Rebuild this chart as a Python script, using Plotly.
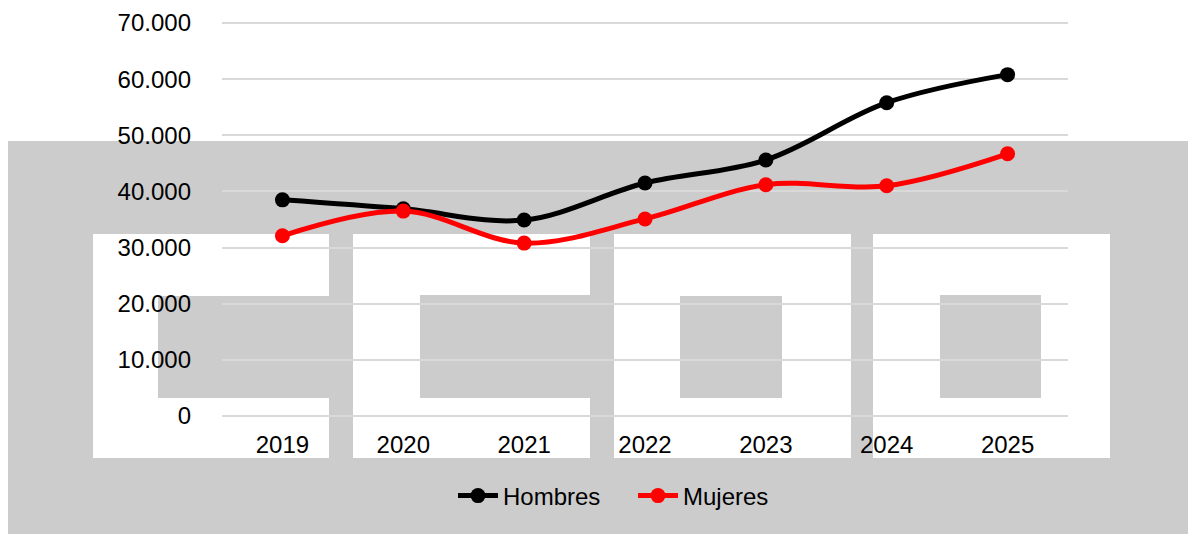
import plotly.graph_objects as go

years = ["2019", "2020", "2021", "2022", "2023", "2024", "2025"]
hombres = [38500, 36900, 34900, 41500, 45600, 55800, 60800]
mujeres = [32100, 36500, 30800, 35100, 41200, 41000, 46700]
y_ticks = [0, 10000, 20000, 30000, 40000, 50000, 60000, 70000]

FONT = "Liberation Sans, Arial, sans-serif"
GREY = "#cccccc"

# page offset (browser body margin) and figure size
OFF = 8
FW, FH = 1196, 534

# plot area in page pixels: 0 at y=416, 70.000 at y=23; padded by 3px each side
PAD = 3
Y0, Y70 = 416, 23
VPP = 70000 / (Y0 - Y70)
L, R, T, B = 222, 1068, Y70 - PAD, Y0 + PAD
W, H = R - L, B - T


def px(x):
    return (x - L) / W


def py(y):
    return (B - y) / H


def rect(x0, y0, x1, y1, color):
    return dict(type="rect", xref="paper", yref="paper", layer="below",
                x0=px(x0), x1=px(x1), y0=py(y1), y1=py(y0),
                fillcolor=color, line=dict(width=0))


shapes = [rect(8, 141, 1210, 560, GREY)]
# watermark letters C C O O
shapes += [
    rect(93, 234, 329, 458, "white"), rect(158, 296, 329, 398, GREY),
    rect(353, 234, 590, 458, "white"), rect(420, 295, 590, 398, GREY),
    rect(614, 234, 851, 458, "white"), rect(680, 296, 782, 398, GREY),
    rect(873, 234, 1110, 458, "white"), rect(940, 295, 1041, 398, GREY),
]

fig = go.Figure()
fig.add_trace(go.Scatter(x=years, y=hombres, name="Hombres", mode="lines+markers",
                         line=dict(color="black", width=5, shape="spline"),
                         marker=dict(size=15, color="black")))
fig.add_trace(go.Scatter(x=years, y=mujeres, name="Mujeres", mode="lines+markers",
                         line=dict(color="#ff0000", width=5, shape="spline"),
                         marker=dict(size=15, color="#ff0000")))

fig.update_layout(
    width=FW, height=FH,
    margin=dict(l=L - OFF, r=FW - (R - OFF), t=T - OFF, b=FH - (B - OFF), pad=0,
                autoexpand=False),
    paper_bgcolor="white", plot_bgcolor="rgba(0,0,0,0)",
    separators=",.",
    font=dict(family=FONT, size=24, color="black"),
    shapes=shapes,
    showlegend=True,
    legend=dict(orientation="h", x=px(633), y=py(496), xanchor="center", yanchor="middle",
                font=dict(size=24), bgcolor="rgba(0,0,0,0)", itemwidth=40,
                entrywidth=125),
    xaxis=dict(type="category", range=[-0.5, 6.5], showgrid=False, zeroline=False,
               showline=False, ticks="", ticklabelstandoff=9, automargin=False),
    yaxis=dict(range=[-PAD * VPP, 70000 + PAD * VPP], tickvals=y_ticks, tickformat=",d",
               showgrid=True, gridcolor="#d9d9d9", gridwidth=1.5, zeroline=False,
               showline=False, ticks="", ticklabelstandoff=30, automargin=False),
)

fig.write_html("out.html")
